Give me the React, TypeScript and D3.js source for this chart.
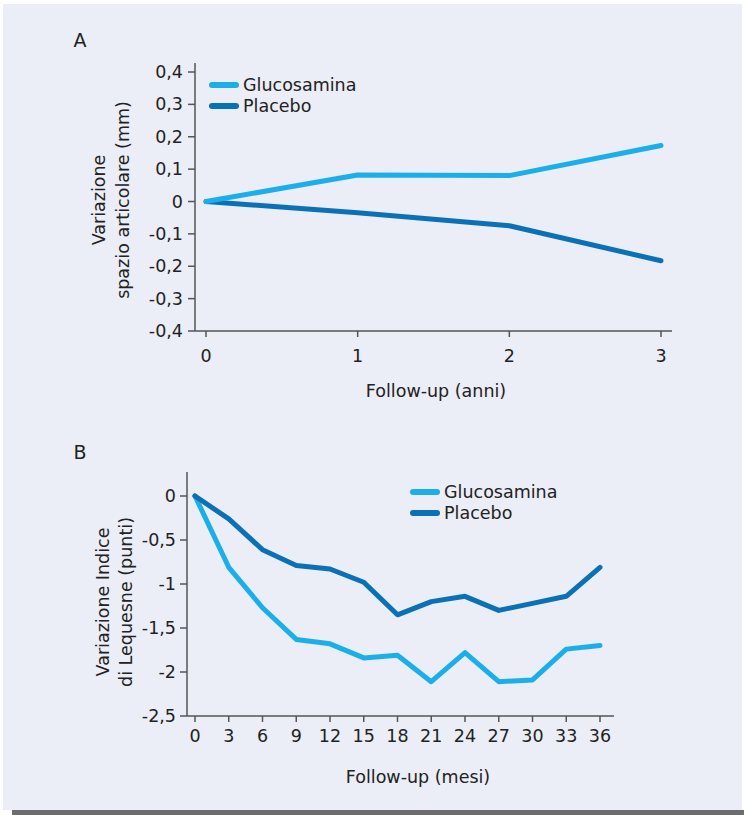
import React from "react";
import * as d3 from "d3";

const yearsA = [0, 1, 2, 3];
const glucoA = [0, 0.082, 0.08, 0.173];
const placeboA = [0, -0.035, -0.075, -0.183];
const yTicksA = [0.4, 0.3, 0.2, 0.1, 0, -0.1, -0.2, -0.3, -0.4];

const monthsB = [0, 3, 6, 9, 12, 15, 18, 21, 24, 27, 30, 33, 36];
const glucoB = [0, -0.81, -1.27, -1.63, -1.68, -1.84, -1.81, -2.11, -1.78, -2.11, -2.09, -1.74, -1.7];
const placeboB = [0, -0.26, -0.61, -0.79, -0.83, -0.98, -1.35, -1.2, -1.14, -1.3, -1.22, -1.14, -0.81];
const yTicksB = [0, -0.5, -1, -1.5, -2, -2.5];

const LIGHT = "#1AAFEA";
const DARK = "#0A71B7";
const AX = "#555";
const TXT = "#222";
const FONT = "'DejaVu Sans', Verdana, sans-serif";
const FS = 17.5;

const fmt = (v: number) => (v === 0 ? "0" : String(v).replace(".", ","));

function Legend({ x, y }: { x: number; y: number }) {
  return (
    <g>
      <line x1={x} x2={x + 24} y1={y} y2={y} stroke={LIGHT} strokeWidth={6} strokeLinecap="round" />
      <text x={x + 31} y={y + 6} fontSize={FS} fill={TXT}>Glucosamina</text>
      <line x1={x} x2={x + 24} y1={y + 21} y2={y + 21} stroke={DARK} strokeWidth={6} strokeLinecap="round" />
      <text x={x + 31} y={y + 27} fontSize={FS} fill={TXT}>Placebo</text>
    </g>
  );
}

export default function App() {
  // Chart A
  const xA = d3.scaleLinear().domain([0, 3]).range([206, 661]);
  const yA = d3.scaleLinear().domain([-0.4, 0.4]).range([331, 72]);
  const lineA = d3.line<number>().x((_, i) => xA(yearsA[i])).y((d) => yA(d));

  // Chart B
  const xB = d3.scaleLinear().domain([0, 36]).range([195, 600]);
  const yB = d3.scaleLinear().domain([-2.5, 0]).range([716, 496]);
  const lineB = d3.line<number>().x((_, i) => xB(monthsB[i])).y((d) => yB(d));

  return (
    <svg width={744} height={815} style={{ position: "absolute", left: 0, top: 0, fontFamily: FONT }}>
      <rect x={3} y={4} width={739} height={806} fill="#EBEEF6" />
      <rect x={12} y={810} width={732} height={5} fill="#6D6D70" />

      {/* Panel A */}
      <text x={80} y={47} fontSize={19} fill={TXT} textAnchor="middle">A</text>
      <line x1={195} x2={195} y1={63} y2={331} stroke={AX} strokeWidth={1.5} />
      <line x1={195} x2={672} y1={331} y2={331} stroke={AX} strokeWidth={1.5} />
      {yTicksA.map((t) => (
        <g key={"ya" + t}>
          <line x1={188} x2={195} y1={yA(t)} y2={yA(t)} stroke={AX} strokeWidth={1.5} />
          <text x={183} y={yA(t) + 6} fontSize={FS} fill={TXT} textAnchor="end">{fmt(t)}</text>
        </g>
      ))}
      {yearsA.map((t) => (
        <g key={"xa" + t}>
          <line x1={xA(t)} x2={xA(t)} y1={331} y2={337} stroke={AX} strokeWidth={1.5} />
          <text x={xA(t)} y={362} fontSize={FS} fill={TXT} textAnchor="middle">{t}</text>
        </g>
      ))}
      <text x={436} y={397} fontSize={FS} fill={TXT} textAnchor="middle">Follow-up (anni)</text>
      <text transform="translate(105,200) rotate(-90)" fontSize={FS} fill={TXT} textAnchor="middle">Variazione</text>
      <text transform="translate(129,200) rotate(-90)" fontSize={FS} fill={TXT} textAnchor="middle">spazio articolare (mm)</text>
      <path d={lineA(placeboA) || ""} fill="none" stroke={DARK} strokeWidth={5} strokeLinecap="round" strokeLinejoin="round" />
      <path d={lineA(glucoA) || ""} fill="none" stroke={LIGHT} strokeWidth={5} strokeLinecap="round" strokeLinejoin="round" />
      <Legend x={212} y={85} />

      {/* Panel B */}
      <text x={80} y={459} fontSize={19} fill={TXT} textAnchor="middle">B</text>
      <line x1={187} x2={187} y1={472} y2={716} stroke={AX} strokeWidth={1.5} />
      <line x1={187} x2={614} y1={716} y2={716} stroke={AX} strokeWidth={1.5} />
      {yTicksB.map((t) => (
        <g key={"yb" + t}>
          <line x1={180} x2={187} y1={yB(t)} y2={yB(t)} stroke={AX} strokeWidth={1.5} />
          <text x={176} y={yB(t) + 6} fontSize={FS} fill={TXT} textAnchor="end">{fmt(t)}</text>
        </g>
      ))}
      {monthsB.map((t) => (
        <g key={"xb" + t}>
          <line x1={xB(t)} x2={xB(t)} y1={716} y2={722} stroke={AX} strokeWidth={1.5} />
          <text x={xB(t)} y={742} fontSize={FS} fill={TXT} textAnchor="middle">{t}</text>
        </g>
      ))}
      <text x={418} y={783} fontSize={FS} fill={TXT} textAnchor="middle">Follow-up (mesi)</text>
      <text transform="translate(109,602) rotate(-90)" fontSize={FS} fill={TXT} textAnchor="middle">Variazione Indice</text>
      <text transform="translate(132,602) rotate(-90)" fontSize={FS} fill={TXT} textAnchor="middle">di Lequesne (punti)</text>
      <path d={lineB(glucoB) || ""} fill="none" stroke={LIGHT} strokeWidth={5} strokeLinecap="round" strokeLinejoin="round" />
      <path d={lineB(placeboB) || ""} fill="none" stroke={DARK} strokeWidth={5} strokeLinecap="round" strokeLinejoin="round" />
      <Legend x={413} y={492} />
    </svg>
  );
}
